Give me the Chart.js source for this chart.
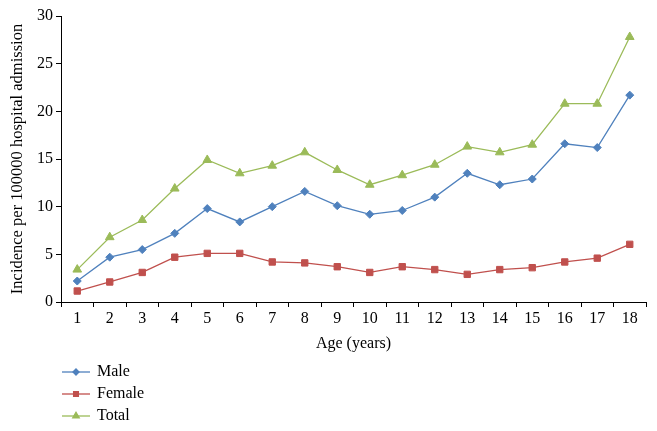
<!DOCTYPE html>
<html>
<head>
<meta charset="utf-8">
<script src="https://cdn.jsdelivr.net/npm/chart.js@4"></script>
<style>
html,body{margin:0;padding:0;background:#fff;}
#wrap{width:657px;height:431px;position:relative;}
</style>
</head>
<body>
<div id="wrap"><canvas id="c" width="657" height="431"></canvas></div>
<script>
const categories = ['1','2','3','4','5','6','7','8','9','10','11','12','13','14','15','16','17','18'];
const male   = [2.2, 4.7, 5.5, 7.2, 9.8, 8.4, 10.0, 11.6, 10.1, 9.2, 9.6, 11.0, 13.5, 12.3, 12.9, 16.6, 16.2, 21.7];
const female = [1.15, 2.1, 3.1, 4.7, 5.1, 5.1, 4.2, 4.1, 3.7, 3.1, 3.7, 3.4, 2.9, 3.4, 3.6, 4.2, 4.6, 6.05];
const total  = [3.4, 6.8, 8.6, 11.9, 14.9, 13.5, 14.3, 15.7, 13.85, 12.3, 13.3, 14.4, 16.3, 15.7, 16.5, 20.8, 20.8, 27.8];
const seriesNames = ['Male', 'Female', 'Total'];
const yMin = 0, yMax = 30, yStep = 5;

const FONT = 'Liberation Serif, Times New Roman, serif';
const colors = ['#4F81BD', '#C0504D', '#9BBB59'];
const styles = [
  {pointStyle:'rectRot', radius:4},
  {pointStyle:'rect', radius:4.5},
  {pointStyle:'triangle', radius:5}
];
const seriesData = [male, female, total];

const datasets = seriesData.map((d, i) => ({
  label: seriesNames[i],
  data: d,
  borderColor: colors[i],
  backgroundColor: colors[i],
  borderWidth: 1.3,
  pointStyle: styles[i].pointStyle,
  pointRadius: styles[i].radius,
  pointBorderWidth: 1,
  pointBackgroundColor: colors[i],
  pointBorderColor: colors[i],
  tension: 0
}));

const legendPlugin = {
  id: 'vlegend',
  afterDraw(chart) {
    const ctx = chart.ctx;
    const x0 = 62, x1 = 90, tx = 97;
    const ys = [372, 394, 416];
    ctx.save();
    chart.data.datasets.forEach((ds, i) => {
      const y = ys[i];
      ctx.strokeStyle = ds.borderColor;
      ctx.lineWidth = 1.3;
      ctx.beginPath();
      ctx.moveTo(x0, y);
      ctx.lineTo(x1, y);
      ctx.stroke();
      ctx.fillStyle = ds.backgroundColor;
      ctx.strokeStyle = ds.borderColor;
      Chart.helpers.drawPoint(ctx, {pointStyle: ds.pointStyle, radius: ds.pointRadius * 0.75, rotation: 0, borderWidth: 1}, (x0 + x1) / 2, y);
      ctx.fillStyle = '#000';
      ctx.font = '16px ' + FONT;
      ctx.textBaseline = 'middle';
      ctx.textAlign = 'left';
      ctx.fillText(ds.label, tx, y);
    });
    ctx.restore();
  }
};

new Chart(document.getElementById('c'), {
  type: 'line',
  data: { labels: categories, datasets },
  options: {
    responsive: false,
    animation: false,
    layout: { padding: { top: 16, right: 11, bottom: 69, left: 0 } },
    plugins: { legend: { display: false }, tooltip: { enabled: false } },
    scales: {
      x: {
        offset: true,
        afterFit(s) { s.height = 60; },
        grid: { offset: true, drawOnChartArea: false, drawTicks: true, tickLength: 5, color: '#000', lineWidth: 1 },
        border: { color: '#000', width: 1 },
        ticks: { color: '#000', font: { family: FONT, size: 16 }, padding: 2, maxRotation: 0, autoSkip: false },
        title: { display: true, text: 'Age (years)', color: '#000', font: { family: FONT, size: 16 }, padding: { top: 0, bottom: 9 } }
      },
      y: {
        min: yMin, max: yMax,
        afterFit(s) { s.width = 61; },
        grid: { drawOnChartArea: false, drawTicks: true, tickLength: 5, color: '#000', lineWidth: 1 },
        border: { color: '#000', width: 1 },
        ticks: { stepSize: yStep, color: '#000', font: { family: FONT, size: 16 }, padding: 3 },
        title: { display: true, text: 'Incidence per 100000 hospital admission', color: '#000', font: { family: FONT, size: 16.5 }, padding: { top: 8, bottom: 0 } }
      }
    }
  },
  plugins: [legendPlugin]
});
</script>
</body>
</html>
